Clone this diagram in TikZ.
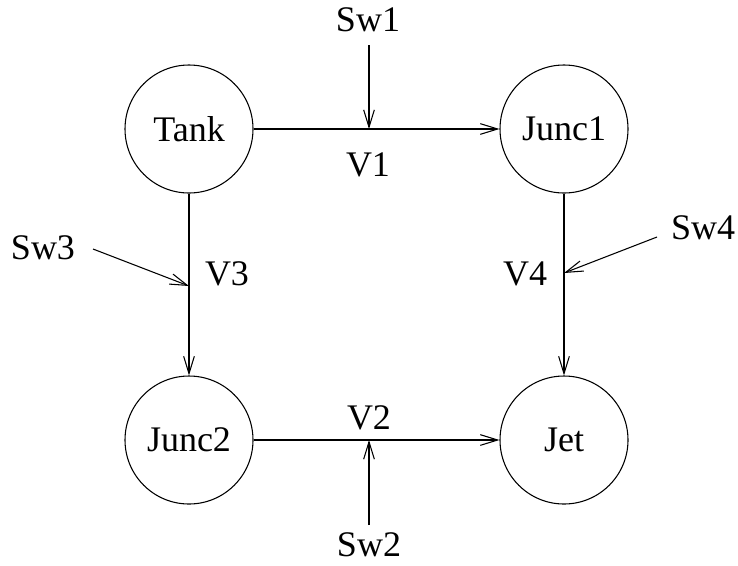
\documentclass[tikz,border=0pt]{standalone}
\usepackage{fontspec}
\setmainfont{Liberation Serif}
\usetikzlibrary{arrows.meta}
\begin{document}
\begin{tikzpicture}[x=0.75pt,y=-0.75pt,
  every node/.style={font=\fontsize{27}{30}\selectfont},
  state/.style={circle,draw,line width=0.8pt,minimum size=96pt,inner sep=0pt},
  lbl/.style={inner sep=0pt},
  flow/.style={line width=0.8pt,-{Straight Barb[length=13pt,width=8pt,line width=0.8pt]}}]
\useasboundingbox (0,0) rectangle (738,565);
\node[state] (tank) at (189,129) {Tank};
\node[state] (junc1) at (564,129) {Junc1};
\node[state] (junc2) at (189,440) {Junc2};
\node[state] (jet) at (564,440) {Jet};
% main flows
\draw[flow] (tank) -- (junc1);
\draw[flow] (tank) -- (junc2);
\draw[flow] (junc1) -- (jet);
\draw[flow] (junc2) -- (jet);
% valve points
\coordinate (v1p) at (369,129);
\coordinate (v2p) at (369,440);
\coordinate (v3p) at (189,286);
\coordinate (v4p) at (564,273);
% labels
\node[lbl] (v1) at (368,165) {V1};
\node[lbl] (v2) at (369,418) {V2};
\node[lbl] (v3) at (227,274) {V3};
\node[lbl] (v4) at (525,274) {V4};
\node[lbl] (sw1) at (368,20) {Sw1};
\node[lbl] (sw2) at (369,545) {Sw2};
\node[lbl] (sw3) at (43,248) {Sw3};
\node[lbl] (sw4) at (703,228) {Sw4};
% switch arrows
\coordinate (s1) at (369,45);
\coordinate (s2) at (369,525);
\coordinate (s3) at (93,249);
\coordinate (s4) at (657,237);
\draw[flow] (s1) -- (v1p);
\draw[flow] (s2) -- (v2p);
\draw[flow] (s3) -- (v3p);
\draw[flow] (s4) -- (v4p);
\end{tikzpicture}
\end{document}
